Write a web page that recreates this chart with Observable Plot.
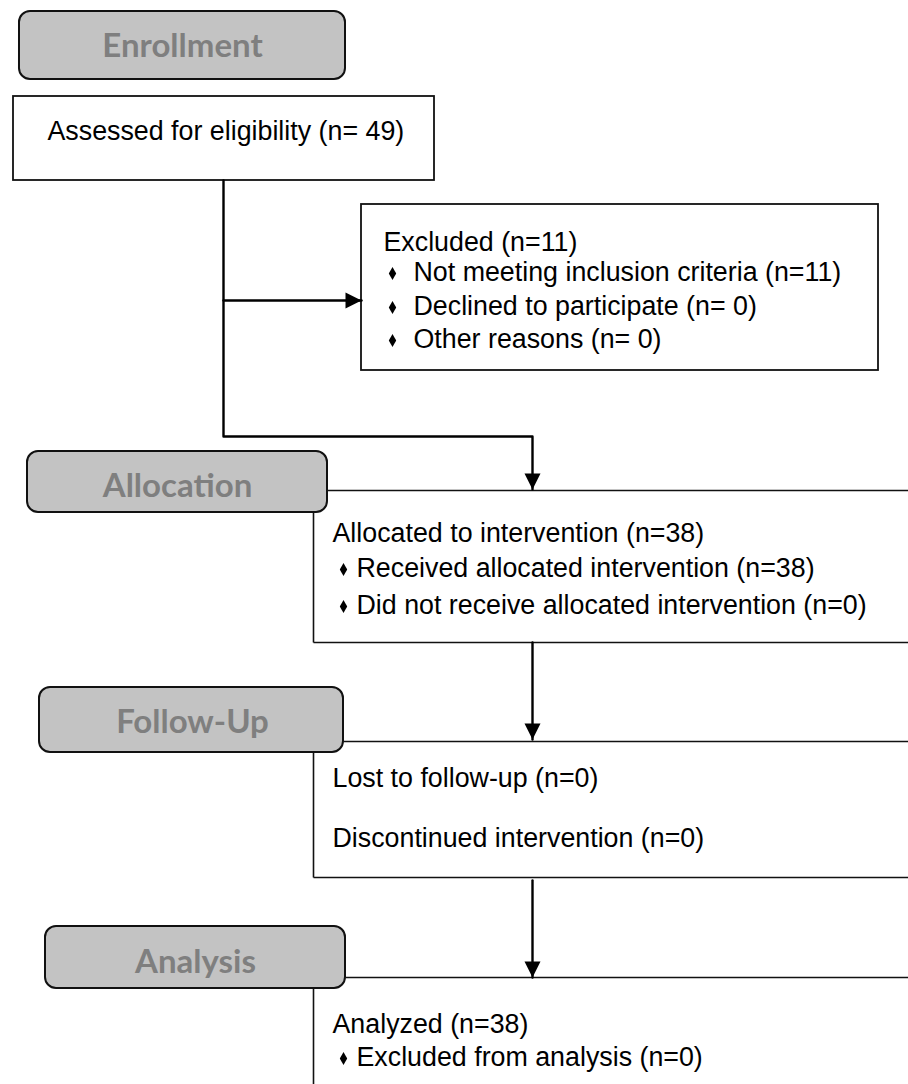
<!DOCTYPE html>
<html>
<head>
<meta charset="utf-8">
<script src="https://cdn.jsdelivr.net/npm/d3@7"></script>
<script src="https://cdn.jsdelivr.net/npm/@observablehq/plot@0.6"></script>
<style>
  html, body { margin: 0; padding: 0; background: #fff; overflow: hidden; }
  #chart svg { display: block; }
</style>
</head>
<body>
<div id="chart"></div>
<script>
// ---- Data (text content of the CONSORT flow diagram) ----
const stages = ["Enrollment", "Allocation", "Follow-Up", "Analysis"];
const assessedText = ["Assessed for eligibility (n= 49)"];
const excludedTitle = ["Excluded (n=11)"];
const excludedReasons = ["Not meeting inclusion criteria (n=11)", "Declined to participate (n= 0)", "Other reasons (n= 0)"];
const allocatedTitle = ["Allocated to intervention (n=38)"];
const allocatedItems = ["Received allocated intervention (n=38)", "Did not receive allocated intervention (n=0)"];
const followUpLines = ["Lost to follow-up (n=0)", "Discontinued intervention (n=0)"];
const analyzedTitle = ["Analyzed (n=38)"];
const analyzedItems = ["Excluded from analysis (n=0)"];

// ---- Layout (positions in page pixels) ----
const W = 908, H = 1084;
const headerBoxes = [
  {x1: 19, x2: 345, y1: 11, y2: 79, tx: 182, ty: 45.5},
  {x1: 27, x2: 327, y1: 451, y2: 512, tx: 177, ty: 485.5},
  {x1: 39, x2: 343, y1: 687, y2: 752, tx: 192, ty: 721.5},
  {x1: 45, x2: 345, y1: 926, y2: 988, tx: 195, ty: 961.5}
];
const whiteBoxes = [
  {x1: 13, x2: 434, y1: 96, y2: 180},
  {x1: 361, x2: 878, y1: 204, y2: 370}
];
const openBoxes = [
  {top: 490, topX: 327, left: 313, y1: 512, bottom: 642},
  {top: 741, topX: 343, left: 313, y1: 752, bottom: 877},
  {top: 977, topX: 345, left: 313, y1: 988, bottom: null}
];
const connectors = [
  {pts: [[223, 180], [223, 436], [532, 436], [532, 489]], dir: "down"},
  {pts: [[223, 300], [361, 300]], dir: "right"},
  {pts: [[532, 642], [532, 739]], dir: "down"},
  {pts: [[532, 880], [532, 977]], dir: "down"}
];

// text placements
const texts = [];
texts.push({t: assessedText[0], x: 47, y: 131});
texts.push({t: excludedTitle[0], x: 383, y: 242});
excludedReasons.forEach((t, i) => texts.push({t, x: 413, y: [272, 306, 339][i], bullet: 392}));
texts.push({t: allocatedTitle[0], x: 332, y: 533});
allocatedItems.forEach((t, i) => texts.push({t, x: 356, y: [568, 605][i], bullet: 343}));
followUpLines.forEach((t, i) => texts.push({t, x: 332, y: [778, 838][i]}));
texts.push({t: analyzedTitle[0], x: 332, y: 1024});
analyzedItems.forEach((t, i) => texts.push({t, x: 356, y: [1057][i], bullet: 343}));
const bullets = texts.filter(d => d.bullet != null).map(d => ({x: d.bullet, y: d.y + 1}));

const headers = stages.map((s, i) => ({label: s, ...headerBoxes[i]}));

// segments for open-ended boxes
const segs = [];
openBoxes.forEach(b => {
  segs.push({x1: b.topX, y1: b.top, x2: W, y2: b.top});
  segs.push({x1: b.left, y1: b.y1, x2: b.left, y2: b.bottom == null ? H : b.bottom});
  if (b.bottom != null) segs.push({x1: b.left, y1: b.bottom, x2: W, y2: b.bottom});
});

const connPts = connectors.flatMap((c, i) => c.pts.map(([x, y]) => ({x, y, z: i})));
const heads = connectors.map(c => {
  const [x, y] = c.pts[c.pts.length - 1];
  return {x, y, rotate: c.dir === "down" ? 0 : -90};
});

// custom arrowhead symbol: tip at origin, pointing down
const arrowHead = {
  draw(ctx) {
    ctx.moveTo(0, 0);
    ctx.lineTo(-8, -16);
    ctx.lineTo(8, -16);
    ctx.closePath();
  }
};

const bodyFont = "'Liberation Sans', Arial, sans-serif";

const chart = Plot.plot({
  width: W,
  height: H,
  margin: 0,
  x: {domain: [0, W], range: [0, W], axis: null},
  y: {domain: [0, H], range: [0, H], axis: null},
  style: {background: "#fff"},
  marks: [
    Plot.rect(whiteBoxes, {x1: "x1", x2: "x2", y1: "y1", y2: "y2", fill: "#fff", stroke: "#111", strokeWidth: 1.8}),
    Plot.link(segs, {x1: "x1", y1: "y1", x2: "x2", y2: "y2", stroke: "#111", strokeWidth: 1.6}),
    Plot.line(connPts, {x: "x", y: "y", z: "z", stroke: "#000", strokeWidth: 2.4, curve: "linear"}),
    Plot.dot(heads, {x: "x", y: "y", rotate: "rotate", symbol: arrowHead, fill: "#000", stroke: "none", r: 5}),
    Plot.rect(headers, {x1: "x1", x2: "x2", y1: "y1", y2: "y2", rx: 11, fill: "#c3c3c3", stroke: "#111", strokeWidth: 2}),
    Plot.text(headers, {x: "tx", y: "ty", text: "label", fontSize: 33, fontWeight: 700, fontFamily: "Lato, 'Open Sans', sans-serif", fill: "#7f7f7f", textAnchor: "middle"}),
    Plot.dot(bullets, {x: "x", y: "y", symbol: "diamond", r: 3.9, fill: "#000", stroke: "none"}),
    Plot.text(texts, {x: "x", y: "y", text: "t", fontSize: 26.8, fontFamily: bodyFont, fill: "#000", textAnchor: "start"})
  ]
});
document.getElementById("chart").appendChild(chart);
</script>
</body>
</html>
